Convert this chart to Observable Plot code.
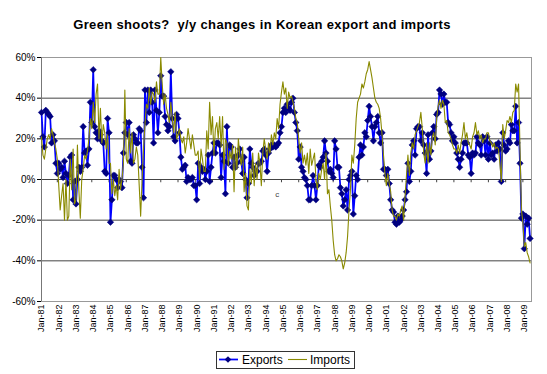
<!DOCTYPE html>
<html><head><meta charset="utf-8">
<script src="https://cdn.jsdelivr.net/npm/d3@7"></script>
<script src="https://cdn.jsdelivr.net/npm/@observablehq/plot@0.6"></script>
<style>
body{margin:0;background:#fff;font-family:Arial,"Liberation Sans",sans-serif;}
#wrap{position:relative;width:547px;height:374px;overflow:hidden;}
#chart{position:absolute;left:0;top:0;}
#title{position:absolute;left:0;width:524px;top:18px;line-height:13px;text-align:center;font-weight:bold;font-size:13px;letter-spacing:0.35px;white-space:pre;color:#000;}
#legend{position:absolute;left:216px;top:351px;width:137px;height:16px;border:1px solid #333;background:#fff;}
</style></head><body>
<div id="wrap"><div id="chart"></div>
<div id="title">Green shoots?  y/y changes in Korean export and imports</div>
<div id="legend"></div></div>
<script>
// Monthly y/y % changes, Jan-81 .. May-09
const startLabel = "Jan-81";
const exportsYoY = [
 33,21,16,34,33,32,31,18,22,19,8,3,
 8,5,6,1,9,3,-2,2,11,12,-10,-1,
 -12,0,6,4,6,26,13,14,7,15,38,28,
 54,26,23,20,24,22,19,18,4,3,30,23,
 -21,-10,2,2,0,-4,0,-1,-4,13,23,28,
 22,28,9,8,22,20,18,18,25,24,6,-9,
 44,28,44,33,44,38,18,44,34,23,33,51,
 41,41,31,27,24,26,53,30,21,19,32,30,
 23,11,5,6,7,-1,1,0,0,1,-3,-3,
 -10,8,-2,6,4,5,0,4,12,-1,6,13,
 18,13,18,18,17,1,12,9,-7,26,8,17,
 16,6,11,6,8,12,15,9,3,11,0,-9,
 -2,15,8,6,2,4,4,8,8,9,14,15,
 12,4,13,15,17,16,17,16,17,18,23,26,
 33,35,33,37,35,34,38,40,33,28,24,10,
 16,6,4,1,0,-3,-10,-10,-3,2,-3,-10,
 -3,7,6,9,11,19,13,9,4,5,3,1,
 19,15,6,6,-4,-7,-13,-10,-5,-15,0,2,
 4,-17,-8,2,0,11,17,12,16,23,21,29,
 36,31,26,19,26,28,31,23,18,23,5,5,
 2,5,-2,-10,-15,-16,-21,-22,-18,-21,-20,-18,
 -15,-10,-6,8,-1,4,17,19,12,25,26,26,
 19,23,17,13,3,22,10,14,23,26,20,32,
 33,44,42,37,42,38,38,28,27,23,19,21,
 18,13,10,6,10,13,18,18,18,12,11,3,
 13,12,13,21,18,17,12,21,19,12,21,10,
 18,12,13,10,17,14,18,15,-1,23,17,14,
 15,19,18,27,24,24,36,18,28,8,-19,-17,
 -34,-18,-22,-19,-29
];
const importsYoY = [
 21,12,10,15,20,22,20,25,22,18,15,10,
 -3,-15,-8,-2,-20,0,-20,-18,10,-5,15,-12,
 -10,17,-5,-19,0,5,12,10,14,20,30,25,
 38,28,42,47,20,35,18,27,23,15,22,8,
 8,-7,0,-8,-3,-10,5,-5,0,8,44,10,
 8,25,13,23,8,10,16,12,-3,-18,0,15,
 27,37,35,45,37,43,42,38,48,42,42,60,
 47,37,42,35,32,28,38,30,23,33,20,22,
 25,20,18,21,13,18,25,20,15,22,17,12,
 12,14,0,15,10,4,4,24,15,38,22,31,
 12,25,28,20,31,16,31,5,20,18,7,14,
 10,17,-6,16,5,20,12,7,16,-6,3,-13,
 -15,5,-2,13,-3,8,0,13,8,-3,13,20,
 15,10,18,13,22,17,23,20,30,25,37,43,
 48,42,45,35,43,40,41,38,35,30,28,20,
 13,18,8,12,7,13,3,15,7,10,13,0,
 -5,3,0,5,8,0,13,-7,-5,-13,-20,-30,
 -37,-40,-39,-37,-38,-40,-44,-41,-36,-28,-15,-5,
 12,8,17,30,38,40,42,47,45,48,52,54,
 58,54,50,45,40,38,37,35,30,22,12,3,
 -3,3,-2,-6,-15,-18,-18,-20,-17,-18,-15,-13,
 -20,-8,2,12,2,13,18,15,22,24,26,28,
 33,25,13,8,18,8,18,12,21,23,17,30,
 36,39,35,39,37,28,29,23,22,20,17,15,
 15,13,17,13,18,22,28,20,23,18,17,15,
 21,23,28,22,24,20,22,18,20,20,23,23,
 19,18,16,18,15,16,15,8,-1,27,20,24,
 29,28,31,28,33,34,47,43,47,15,-15,-21,
 -33,-31,-36,-38,-41
];
const yearLabels = ["Jan-81","Jan-82","Jan-83","Jan-84","Jan-85","Jan-86","Jan-87","Jan-88","Jan-89","Jan-90",
 "Jan-91","Jan-92","Jan-93","Jan-94","Jan-95","Jan-96","Jan-97","Jan-98","Jan-99","Jan-00",
 "Jan-01","Jan-02","Jan-03","Jan-04","Jan-05","Jan-06","Jan-07","Jan-08","Jan-09"];
const gridValues = [-40,-20,0,20,40];
const strayLabel = [{month: 164, value: -7.5, text: "c"}];
const seriesNames = ["Exports","Imports"];
const colors = {exports:"#0000ff", markers:"#000080", imports:"#8a8a00"};

const data = exportsYoY.map((v,i)=>({m:i, exp:v, imp:importsYoY[i]}));
const labelRows = yearLabels.map((t,i)=>({m:i*12, t}));
const diamond = {draw(ctx, size){const h=Math.sqrt(size/2); ctx.moveTo(0,-h); ctx.lineTo(h,0); ctx.lineTo(0,h); ctx.lineTo(-h,0); ctx.closePath();}};

const chart = Plot.plot({
  width:547, height:374,
  marginTop:57, marginBottom:73, marginLeft:41, marginRight:16,
  style:{fontFamily:'Arial, "Liberation Sans", sans-serif', fontSize:"10px", background:"#fff", color:"#000"},
  x:{domain:[0,341], axis:null},
  y:{domain:[-60,60], ticks:6, tickFormat:d=>d+"%", tickSize:4, tickPadding:2, label:null},
  marks:[
    Plot.ruleY(gridValues, {stroke:"#444", strokeWidth:1}),
    Plot.frame({stroke:"#999"}),
    Plot.ruleX([0], {y1:-60, y2:60, stroke:"#777"}),
    Plot.ruleX(labelRows.slice(1), {x:d=>d.m-1, y1:0, y2:-1.6, stroke:"#444"}),
    Plot.text(labelRows, {x:"m", y:-60, text:"t", rotate:-90, textAnchor:"end", dy:3, fontSize:9, fill:"#000"}),
    Plot.text(strayLabel, {x:"month", y:"value", text:"text", fontSize:8, fill:"#444"}),
    Plot.line(data, {x:"m", y:"exp", stroke:colors.exports, strokeWidth:1.75}),
    Plot.dot(data, {x:"m", y:"exp", symbol:diamond, r:2.6, fill:colors.markers, stroke:colors.markers, strokeWidth:0.5}),
    Plot.line(data, {x:"m", y:"imp", stroke:colors.imports, strokeWidth:1.1})
  ]
});
document.getElementById("chart").appendChild(chart);

// legend
const ns = "http://www.w3.org/2000/svg";
const lg = d3.select("#legend").append("svg").attr("width",137).attr("height",16)
  .style("position","absolute").style("left","0").style("top","0")
  .style("font-family",'Arial, "Liberation Sans", sans-serif').style("font-size","12px");
lg.append("line").attr("x1",2).attr("x2",21).attr("y1",7.5).attr("y2",7.5).attr("stroke",colors.exports).attr("stroke-width",1.75);
lg.append("path").attr("d","M11,4.2L14.3,7.5L11,10.8L7.7,7.5Z").attr("fill",colors.markers);
lg.append("text").attr("x",25).attr("y",12).text(seriesNames[0]);
lg.append("line").attr("x1",71).attr("x2",90).attr("y1",7.5).attr("y2",7.5).attr("stroke",colors.imports).attr("stroke-width",1.1);
lg.append("text").attr("x",93).attr("y",12).text(seriesNames[1]);
</script>
</body></html>
